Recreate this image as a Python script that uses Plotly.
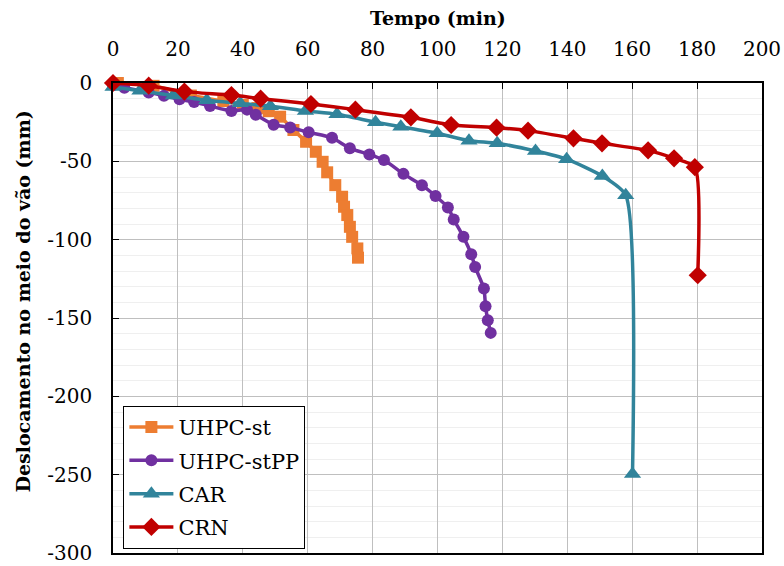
import plotly.graph_objects as go

# ---- data ----
st_t = [1.5, 12.5, 24, 34, 40, 44.5, 48, 51.5, 55.6, 59.5, 62.5, 64.6, 66, 68.5, 70.6, 71.2, 72.2, 73, 73.7, 75.3, 75.5]
st_d = [0, -1.8, -8, -11.5, -14, -16, -18, -21.5, -30, -37.5, -43.9, -50.3, -57, -65.2, -72.6, -79, -84.3, -91.8, -98.2, -105.6, -111.5]

stpp_t = [0, 3.5, 11, 15.7, 20.5, 25, 29.9, 36.5, 41.3, 44, 49.5, 54.6, 60.3, 67.5, 73, 79, 83.5, 89.5, 95.2, 99.4, 103.2, 105, 108, 110.4, 111.6, 114.3, 114.8, 115.5, 116.4]
stpp_d = [-1.5, -3, -6, -8.2, -10.4, -12.1, -14.7, -17.8, -17, -20.2, -26.6, -28.4, -31.5, -35, -41.7, -45.6, -49.2, -58, -65.2, -72.2, -79.4, -87.1, -98.2, -109.3, -117.4, -131.2, -142.5, -151.4, -159.5]

car_t = [0, 8.3, 18.6, 28.9, 39.2, 48.5, 59.3, 69, 80.9, 88.7, 99.9, 109.7, 118.4, 130.2, 139.8, 150.8, 158, 160.1]
car_d = [-2.5, -5, -8, -11, -13, -14.8, -17.8, -20, -25, -27.9, -32.1, -36.8, -38.5, -43.4, -48.6, -59.4, -71.6, -249.5]

crn_t = [0, 11, 22, 36.5, 45.5, 61, 74.7, 91.8, 104.2, 118.2, 127.9, 141.9, 150.7, 164.9, 172.9, 179.3, 180.2]
crn_d = [0, -1.7, -5.5, -7.7, -10, -13.4, -17, -21.9, -26.8, -28.5, -30.4, -35.3, -38.5, -43, -48.1, -53.7, -122.7]

x_ticks = [0, 20, 40, 60, 80, 100, 120, 140, 160, 180, 200]
y_ticks = [0, -50, -100, -150, -200, -250, -300]
y_labels = ["0", "-50", "-100", "-150", "-200", "-250", "-300"]

names = ["UHPC-st", "UHPC-stPP", "CAR", "CRN"]
colors = ["#ED7D31", "#7030A0", "#31849B", "#C00000"]
symbols = ["square", "circle", "triangle-up", "diamond"]
sizes = [12, 12, 15, 14]
series = [(st_t, st_d), (stpp_t, stpp_d), (car_t, car_d), (crn_t, crn_d)]

FONT = "DejaVu Serif"

fig = go.Figure()
for (t, d), n, c, s, sz in zip(series, names, colors, symbols, sizes):
    fig.add_trace(go.Scatter(
        x=t, y=d, name=n, mode="lines+markers", legendgroup=n,
        line=dict(color=c, width=3.5, shape="spline", smoothing=0.6),
        marker=dict(color=c, symbol=s, size=sz, line=dict(width=0)),
        cliponaxis=False,
    ))

fig.update_layout(
    width=784, height=566,
    margin=dict(l=113, r=22, t=83, b=13),
    paper_bgcolor="white", plot_bgcolor="white",
    font=dict(family=FONT, size=20, color="black"),
    showlegend=True,
    legend=dict(
        x=0.016, y=0.313, xanchor="left", yanchor="top",
        bordercolor="black", borderwidth=1, bgcolor="white",
        font=dict(family=FONT, size=21),
        tracegroupgap=3, itemwidth=44,
    ),
    xaxis=dict(
        side="top", range=[0, 200], tickvals=x_ticks,
        showgrid=True, gridcolor="#BFBFBF", gridwidth=1,
        showline=True, linecolor="black", linewidth=1.5, mirror=True,
        ticks="inside", ticklen=6, tickcolor="black",
        ticklabelstandoff=17, automargin=False,
        zeroline=False,
        tickfont=dict(family=FONT, size=20),
    ),
    yaxis=dict(
        range=[-300, 0], tickvals=y_ticks, ticktext=y_labels,
        showgrid=True, gridcolor="#BFBFBF", gridwidth=1,
        minor=dict(dtick=10, tick0=0, showgrid=True, gridcolor="#EFEFEF", gridwidth=1, ticks=""),
        showline=True, linecolor="black", linewidth=1.5, mirror=True,
        ticks="inside", ticklen=6, tickcolor="black",
        ticklabelstandoff=15, automargin=False,
        zeroline=False,
        tickfont=dict(family=FONT, size=20),
    ),
    annotations=[
        dict(text="<b>Tempo (min)</b>", xref="paper", yref="paper", x=0.5, y=1,
             yshift=65, xanchor="center", yanchor="middle", showarrow=False,
             font=dict(family=FONT, size=19)),
        dict(text="<b>Deslocamento no meio do vão (mm)</b>", xref="paper", yref="paper",
             x=0, xshift=-90, y=0.535, xanchor="center", yanchor="middle",
             textangle=-90, showarrow=False, font=dict(family=FONT, size=19)),
    ],
)

fig.write_html("out.html")
